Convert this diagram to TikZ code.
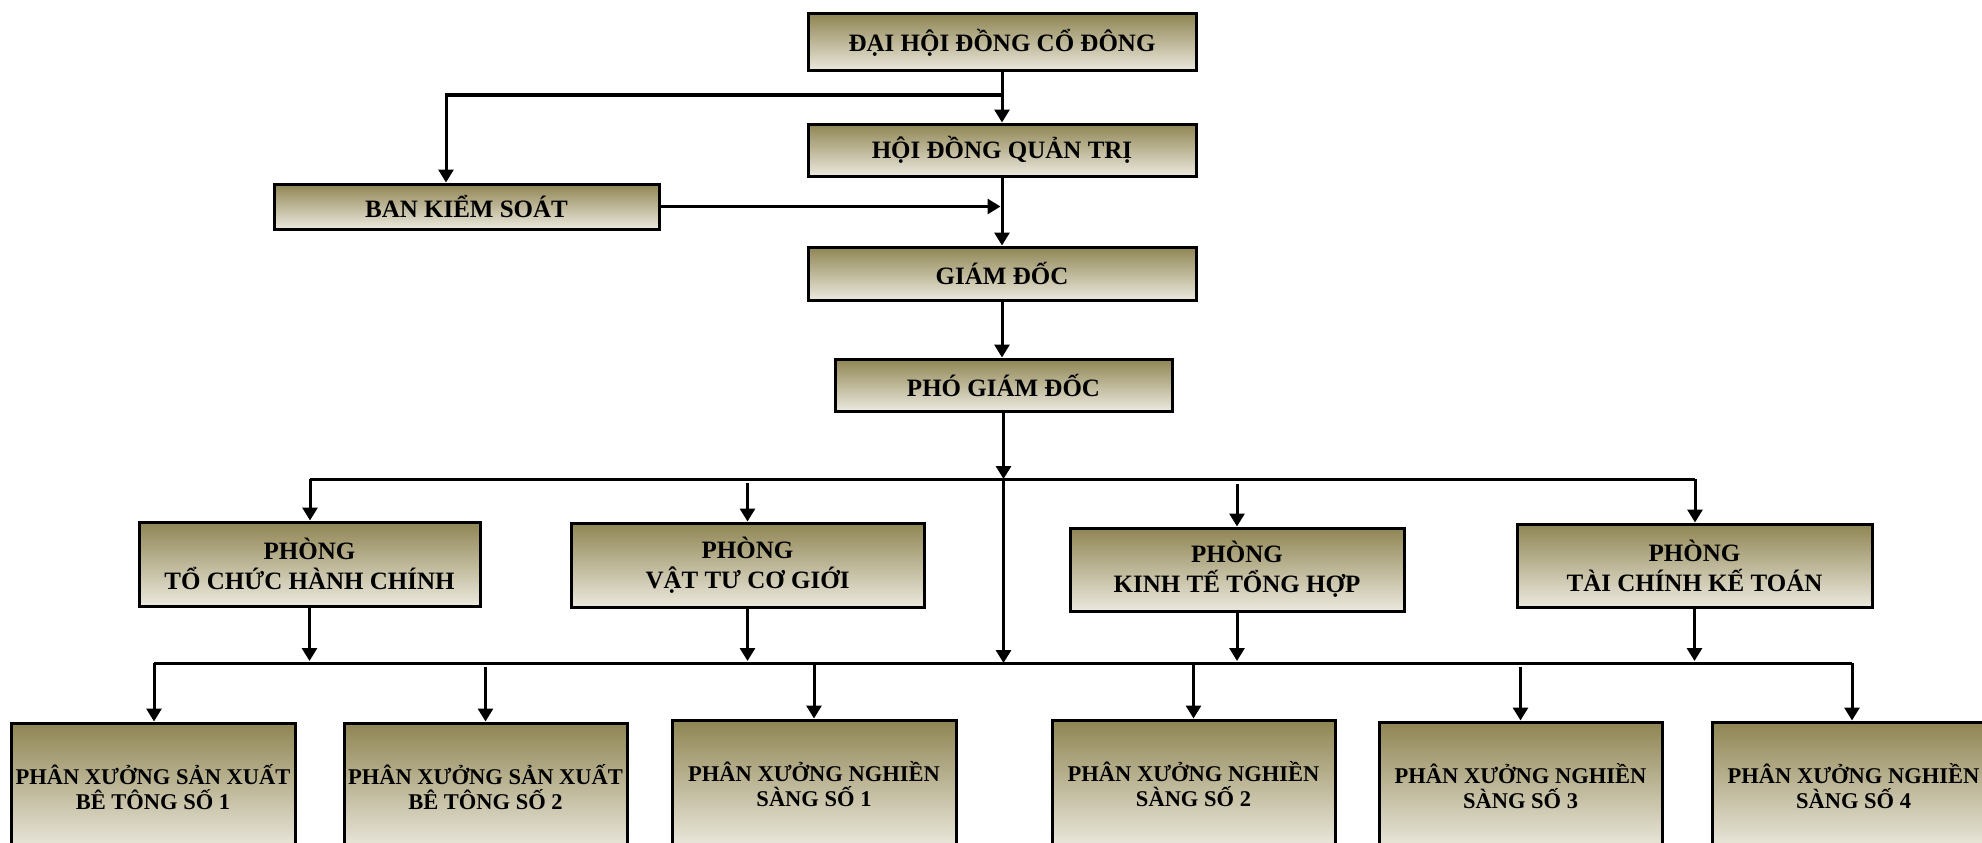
\documentclass[tikz,border=0pt]{standalone}
\usepackage{fontspec}
\setmainfont{Liberation Serif}
\usetikzlibrary{arrows.meta,calc}
\definecolor{boxtop}{RGB}{143,133,83}
\definecolor{boxmid}{RGB}{196,191,160}
\definecolor{boxbot}{RGB}{236,233,222}
\tikzset{
  orgbox/.style={draw, line width=3pt, rectangle, inner sep=0pt, align=center,
    top color=boxtop, middle color=boxmid, bottom color=boxbot},
  topfont/.style={font=\fontsize{25}{30}\selectfont\bfseries},
  botfont/.style={font=\fontsize{22.5}{25}\selectfont\bfseries},
  conn/.style={line width=3pt},
  arr/.style={line width=3pt, -{Triangle[width=15pt,length=13pt]}},
}
\begin{document}
\begin{tikzpicture}[x=1pt,y=-1pt]
\clip (0,0) rectangle (1982,843);
\fill[white] (0,0) rectangle (1982,843);

% top chain
\node[orgbox,topfont,minimum width=388,minimum height=57] (dhdcd) at (1002,42.5) {ĐẠI HỘI ĐỒNG CỔ ĐÔNG};
\node[orgbox,topfont,minimum width=388,minimum height=52] (hdqt) at (1002,150) {HỘI ĐỒNG QUẢN TRỊ};
\node[orgbox,topfont,minimum width=385,minimum height=45] (bks) at (466.5,206.5) {BAN KIỂM SOÁT};
\node[orgbox,topfont,minimum width=388,minimum height=53] (gd) at (1002,273.5) {GIÁM ĐỐC};
\node[orgbox,topfont,minimum width=337,minimum height=52] (pgd) at (1003.5,385) {PHÓ GIÁM ĐỐC};

% departments
\node[orgbox,topfont,minimum width=341,minimum height=84] (tchc) at (309.5,564) {PHÒNG\\TỔ CHỨC HÀNH CHÍNH};
\node[orgbox,topfont,minimum width=353,minimum height=84] (vtcg) at (747.5,565) {PHÒNG\\VẬT TƯ CƠ GIỚI};
\node[orgbox,topfont,minimum width=334,minimum height=83] (ktth) at (1237,569.5) {PHÒNG\\KINH TẾ TỔNG HỢP};
\node[orgbox,topfont,minimum width=355,minimum height=83] (tckt) at (1694.5,565.5) {PHÒNG\\TÀI CHÍNH KẾ TOÁN};

% workshops
\node[orgbox,botfont,minimum width=284,minimum height=128] (px1) at (153,787) {PHÂN XƯỞNG SẢN XUẤT\\BÊ TÔNG SỐ 1};
\node[orgbox,botfont,minimum width=283,minimum height=128] (px2) at (485.5,787) {PHÂN XƯỞNG SẢN XUẤT\\BÊ TÔNG SỐ 2};
\node[orgbox,botfont,minimum width=284,minimum height=128] (ns1) at (814,784) {PHÂN XƯỞNG NGHIỀN\\SÀNG SỐ 1};
\node[orgbox,botfont,minimum width=283,minimum height=128] (ns2) at (1193.5,784) {PHÂN XƯỞNG NGHIỀN\\SÀNG SỐ 2};
\node[orgbox,botfont,minimum width=283,minimum height=128] (ns3) at (1520.5,786) {PHÂN XƯỞNG NGHIỀN\\SÀNG SỐ 3};
\node[orgbox,botfont,minimum width=283,minimum height=128] (ns4) at (1853.5,786) {PHÂN XƯỞNG NGHIỀN\\SÀNG SỐ 4};

% coordinates
\coordinate (j1) at (1002,95);
\coordinate (kL) at (446,95);
\coordinate (b1L) at (310,479);
\coordinate (b1R) at (1695,479);
\coordinate (b2L) at (154,663);
\coordinate (b2R) at (1852,663);

% top connectors
\draw[arr] (dhdcd.south) -- (hdqt.north);
\draw[arr] (j1) -- (kL) -- (kL |- bks.north);
\draw[arr] (hdqt.south) -- (gd.north);
\draw[arr] (bks.east) -- ($(bks.east -| hdqt.south)+(-1.5,0)$);
\draw[arr] (gd.south) -- (gd.south |- pgd.north);
\draw[arr] (pgd.south) -- (pgd.south |- b1L);
\draw[arr] (pgd.south |- b1L) -- (pgd.south |- b2L);

% bus 1
\draw[conn] (b1L) -- (b1R);
\draw[arr] (b1L) -- (b1L |- tchc.north);
\draw[arr] ($(vtcg.north |- b1L)+(0,4)$) -- (vtcg.north);
\draw[arr] ($(ktth.north |- b1L)+(0,5)$) -- (ktth.north);
\draw[arr] (b1R) -- (b1R |- tckt.north);

% department outputs
\draw[arr] (tchc.south) -- ($(tchc.south |- b2L)+(0,-2)$);
\draw[arr] (vtcg.south) -- ($(vtcg.south |- b2L)+(0,-2)$);
\draw[arr] (ktth.south) -- ($(ktth.south |- b2L)+(0,-2)$);
\draw[arr] (tckt.south) -- ($(tckt.south |- b2L)+(0,-2)$);

% bus 2
\draw[conn] (b2L) -- (b2R);
\draw[arr] (b2L) -- (b2L |- px1.north);
\draw[arr] ($(px2.north |- b2L)+(0,4)$) -- (px2.north);
\draw[arr] (ns1.north |- b2L) -- (ns1.north);
\draw[arr] (ns2.north |- b2L) -- (ns2.north);
\draw[arr] ($(ns3.north |- b2L)+(0,4)$) -- (ns3.north);
\draw[arr] (b2R) -- (b2R |- ns4.north);
\end{tikzpicture}
\end{document}
